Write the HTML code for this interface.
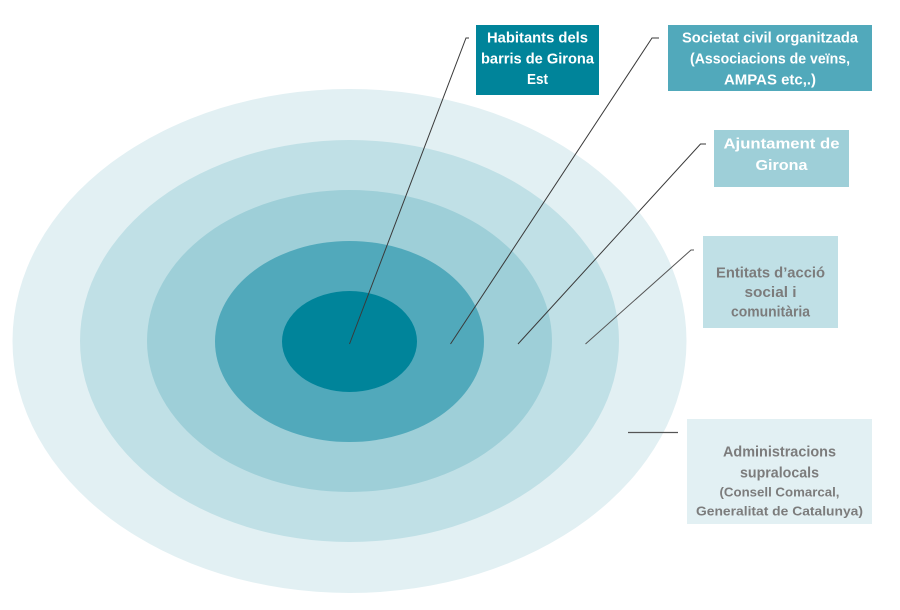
<!DOCTYPE html>
<html><head><meta charset="utf-8"><style>
html,body{margin:0;padding:0;background:#fff;}
svg{display:block;}
text{font-family:"Liberation Sans",Arial,sans-serif;font-weight:bold;}
</style></head><body>
<svg width="900" height="610" viewBox="0 0 900 610" xmlns="http://www.w3.org/2000/svg">
<ellipse cx="349.5" cy="341" rx="337" ry="252" fill="#e2f0f3"/>
<ellipse cx="349.5" cy="341" rx="269.5" ry="201" fill="#c0e0e6"/>
<ellipse cx="349.5" cy="341" rx="202.5" ry="151" fill="#9ecfd8"/>
<ellipse cx="349.5" cy="341.5" rx="134.5" ry="100.5" fill="#51a9bb"/>
<ellipse cx="349.5" cy="341.5" rx="67.5" ry="50.5" fill="#00849a"/>

<g stroke="#3a3a3a" stroke-width="1" fill="none">
<polyline points="349.5,344 466,38 469,38"/>
<polyline points="450.5,344 652,38 659,38"/>
<polyline points="518,344 700.5,144 706,144"/>
<polyline points="585.5,344 691,250 694,250" stroke="#555"/>
<line x1="628" y1="432.5" x2="678" y2="432.5" stroke="#555" stroke-width="1.3"/>
</g>

<rect x="476" y="25" width="123" height="70" fill="#00849a"/>
<g fill="#fff" font-size="15" text-anchor="middle">
<text x="537.5" y="42.5" textLength="101" lengthAdjust="spacingAndGlyphs">Habitants dels</text>
<text x="537.5" y="63.5" textLength="113" lengthAdjust="spacingAndGlyphs">barris de Girona</text>
<text x="537.5" y="84" textLength="21" lengthAdjust="spacingAndGlyphs">Est</text>
</g>

<rect x="668" y="25" width="204" height="66" fill="#51a9bb"/>
<g fill="#fff" font-size="15" text-anchor="middle">
<text x="770" y="42.5" textLength="176" lengthAdjust="spacingAndGlyphs">Societat civil organitzada</text>
<text x="770" y="63.5" textLength="160" lengthAdjust="spacingAndGlyphs">(Associacions de veïns,</text>
<text x="770" y="84.5" textLength="92" lengthAdjust="spacingAndGlyphs">AMPAS etc,.)</text>
</g>

<rect x="714" y="130" width="135" height="57" fill="#9ecfd8"/>
<g fill="#fff" font-size="15" text-anchor="middle">
<text x="781.5" y="148.5" textLength="116" lengthAdjust="spacingAndGlyphs">Ajuntament de</text>
<text x="781.5" y="170" textLength="52" lengthAdjust="spacingAndGlyphs">Girona</text>
</g>

<rect x="703" y="236" width="135" height="92" fill="#c0e0e6"/>
<g fill="#7c7c7c" font-size="15" text-anchor="middle">
<text x="770.5" y="277.5" textLength="109" lengthAdjust="spacingAndGlyphs">Entitats d’acció</text>
<text x="770.5" y="297" textLength="52" lengthAdjust="spacingAndGlyphs">social i</text>
<text x="770.5" y="316.5" textLength="79" lengthAdjust="spacingAndGlyphs">comunitària</text>
</g>

<rect x="687" y="419" width="185" height="105" fill="#e2f0f3"/>
<g fill="#7c7c7c" text-anchor="middle">
<text x="779.5" y="456.5" font-size="15" textLength="113" lengthAdjust="spacingAndGlyphs">Administracions</text>
<text x="779.5" y="477.5" font-size="15" textLength="79" lengthAdjust="spacingAndGlyphs">supralocals</text>
<text x="779.5" y="496.5" font-size="13" textLength="120" lengthAdjust="spacingAndGlyphs">(Consell Comarcal,</text>
<text x="779.5" y="515.5" font-size="13" textLength="167" lengthAdjust="spacingAndGlyphs">Generalitat de Catalunya)</text>
</g>
</svg>
</body></html>
